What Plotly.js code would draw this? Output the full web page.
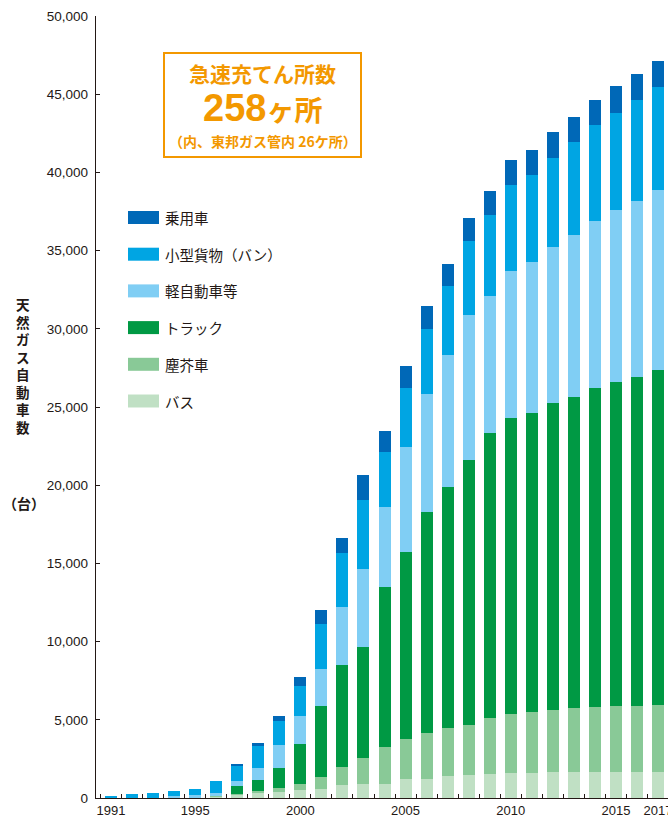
<!DOCTYPE html>
<html>
<head>
<meta charset="utf-8">
<script src="https://cdn.plot.ly/plotly-3.0.1.min.js"></script>
<style>
  html, body { margin: 0; padding: 0; background: #fff; }
  #chart { width: 668px; height: 817px; }
</style>
</head>
<body>
<div id="chart"></div>
<script>
// ---- data (vehicles, units: 台) ----
const years = [1991,1992,1993,1994,1995,1996,1997,1998,1999,2000,2001,2002,2003,2004,2005,2006,2007,2008,2009,2010,2011,2012,2013,2014,2015,2016,2017];
const bus       = [0,0,0,0,0,60,190,320,380,510,580,830,900,900,1210,1210,1410,1470,1530,1600,1600,1660,1660,1660,1660,1660,1660];
const garbage   = [0,0,0,0,0,60,80,150,260,380,770,1150,1660,2370,2560,2940,3070,3200,3580,3770,3900,3960,4090,4160,4220,4220,4280];
const truck     = [0,0,0,0,0,0,510,680,1280,2560,4540,6520,7100,10230,11960,14130,15410,16940,18220,18930,19120,19630,19880,20400,20720,21040,21420];
const kei       = [0,0,0,130,190,190,300,770,1470,1790,2370,3710,4990,5120,6710,7540,8440,9270,8760,9400,9650,9970,10360,10680,11000,11250,11510];
const van       = [130,260,320,320,380,770,960,1410,1530,1920,2880,3450,4410,3520,3770,4160,4410,4730,5180,5500,5560,5690,5950,6140,6200,6460,6590];
const passenger = [0,0,0,0,0,0,130,190,320,580,900,960,1600,1340,1410,1470,1410,1470,1530,1600,1600,1660,1600,1600,1730,1660,1660];

const seriesNames = ['バス','塵芥車','トラック','軽自動車等','小型貨物（バン）','乗用車'];
const seriesData  = [bus, garbage, truck, kei, van, passenger];
const seriesColors = ['#C0E0C4','#89C997','#009944','#80CEF4','#00A5E3','#0068B7'];

const xTickVals = [1991,1995,2000,2005,2010,2015,2017];
const yTickVals = [0,5000,10000,15000,20000,25000,30000,35000,40000,45000,50000];

const yTitle = '天然ガス自動車数';
const yUnit = '（台）';
const boxLine1 = '急速充てん所数';
const boxLine2Num = '258';
const boxLine2Unit = 'ヶ所';
const boxLine3 = '（内、東邦ガス管内 26ケ所）';

// ---- layout geometry (pixels) ----
const W = 668, H = 817, L = 96, T = 16, B = 19;
const PW = W - L, PH = H - T - B;
const px = x => (x - L) / PW;          // pixel x -> paper
const py = y => (T + PH - y) / PH;     // pixel y -> paper

const ink = '#231815';
const orange = '#F39800';
const cjk = '"Noto Sans CJK JP", "Noto Sans", sans-serif';
const latin = '"Liberation Sans", Arial, sans-serif';

const traces = seriesData.map((d, i) => ({
  type: 'bar',
  name: seriesNames[i],
  x: years,
  y: d,
  width: 0.57,
  marker: { color: seriesColors[i], line: { width: 0 } },
  showlegend: false,
  hoverinfo: 'x+y+name'
}));

const shapes = [];
const annotations = [];

// custom legend (top to bottom: reverse of stacking order)
const legendRows = [217.5, 254.2, 290.9, 327.6, 364.3, 401];
for (let k = 0; k < seriesNames.length; k++) {
  const i = seriesNames.length - 1 - k;
  const cy = legendRows[k];
  shapes.push({
    type: 'rect', xref: 'paper', yref: 'paper',
    x0: px(128), x1: px(159), y0: py(cy + 6.5), y1: py(cy - 6.5),
    fillcolor: seriesColors[i], line: { width: 0 }
  });
  annotations.push({
    xref: 'paper', yref: 'paper', x: px(163), y: py(cy),
    xanchor: 'left', yanchor: 'middle', showarrow: false,
    text: seriesNames[i],
    font: { family: cjk, size: 14.5, color: ink }
  });
}

// info box
shapes.push({
  type: 'rect', xref: 'paper', yref: 'paper',
  x0: px(164), x1: px(361), y0: py(157), y1: py(53),
  fillcolor: 'rgba(255,255,255,0)', line: { color: orange, width: 2 }
});
const boxCx = px(262.5);
annotations.push({
  xref: 'paper', yref: 'paper', x: boxCx, y: py(73), xanchor: 'center', yanchor: 'middle',
  showarrow: false, text: '<b>' + boxLine1 + '</b>',
  font: { family: cjk, size: 21, color: orange }
});
annotations.push({
  xref: 'paper', yref: 'paper', x: boxCx, y: py(108), xanchor: 'center', yanchor: 'middle',
  showarrow: false,
  text: '<b><span style="font-family:Liberation Sans, Arial, sans-serif;font-size:38px">' + boxLine2Num + '</span><span style="font-size:28px">' + boxLine2Unit + '</span></b>',
  font: { family: cjk, size: 28, color: orange }
});
annotations.push({
  xref: 'paper', yref: 'paper', x: boxCx, y: py(141), xanchor: 'center', yanchor: 'middle',
  showarrow: false, text: '<b>' + boxLine3 + '</b>',
  font: { family: cjk, size: 14, color: orange }
});

// vertical y-axis title
annotations.push({
  xref: 'paper', yref: 'paper', x: px(23), y: py(365), xanchor: 'center', yanchor: 'middle',
  showarrow: false, text: '<b>' + yTitle.split('').join('<br>') + '</b>',
  font: { family: cjk, size: 13.5, color: ink }
});
annotations.push({
  xref: 'paper', yref: 'paper', x: px(24), y: py(503), xanchor: 'center', yanchor: 'middle',
  showarrow: false, text: '<b>' + yUnit + '</b>',
  font: { family: cjk, size: 14, color: ink }
});

const layout = {
  width: W, height: H,
  margin: { l: L, r: 0, t: T, b: B, pad: 0 },
  paper_bgcolor: '#fff', plot_bgcolor: '#fff',
  barmode: 'stack',
  showlegend: false,
  font: { family: latin, color: ink },
  xaxis: {
    type: 'linear',
    range: [1990.287, 2017.473],
    tickmode: 'array', tickvals: xTickVals, ticktext: xTickVals.map(String),
    ticks: '', showgrid: false, zeroline: false,
    showline: true, linecolor: ink, linewidth: 1.3,
    tickfont: { family: latin, size: 13, color: ink },
    ticklabelstandoff: 0,
    ticklabeloverflow: 'allow',
    minor: { tickmode: 'linear', tick0: 1990.5, dtick: 1, ticks: 'inside', ticklen: 4, tickwidth: 1, tickcolor: ink, showgrid: false },
    fixedrange: true
  },
  yaxis: {
    range: [0, 50000],
    tickmode: 'array', tickvals: yTickVals,
    tickformat: ',d',
    ticks: 'inside', ticklen: 4, tickwidth: 1, tickcolor: ink,
    showgrid: false, zeroline: false,
    showline: true, linecolor: ink, linewidth: 1.3,
    tickfont: { family: latin, size: 13.5, color: ink },
    ticklabelstandoff: 4,
    fixedrange: true
  },
  shapes: shapes,
  annotations: annotations
};

Plotly.newPlot('chart', traces, layout, { displayModeBar: false, staticPlot: true });
</script>
</body>
</html>
